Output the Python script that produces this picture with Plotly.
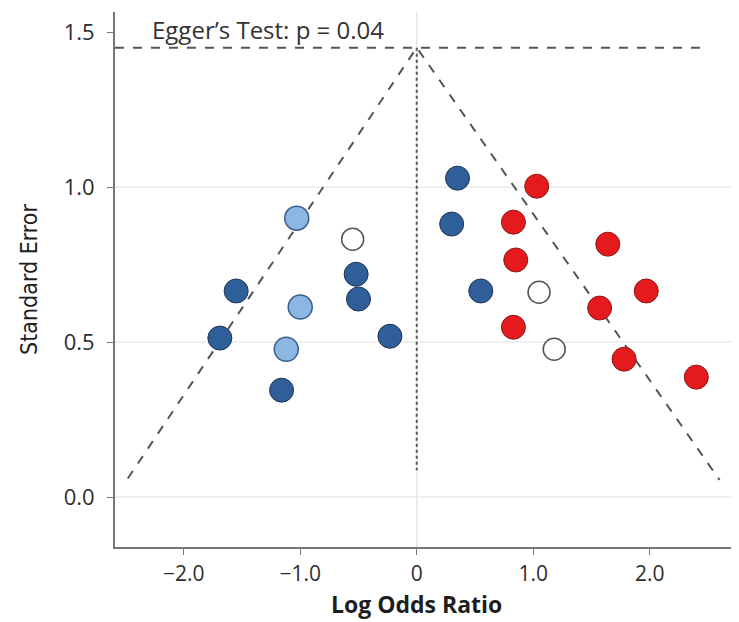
import plotly.graph_objects as go

# ---- data ----
dark_x = [-0.52, -0.50, -1.55, -1.69, -0.23, -1.16, 0.35, 0.30, 0.55]
dark_y = [0.719, 0.639, 0.665, 0.513, 0.519, 0.345, 1.029, 0.881, 0.665]
light_x = [-1.03, -1.00, -1.12]
light_y = [0.900, 0.613, 0.477]
red_x = [1.03, 0.83, 1.64, 0.85, 1.97, 1.57, 0.83, 1.78, 2.40]
red_y = [1.003, 0.887, 0.816, 0.765, 0.665, 0.610, 0.548, 0.445, 0.387]
open_x = [-0.55, 1.05, 1.18]
open_y = [0.832, 0.661, 0.477]

apex = (0.0, 1.45)
left_end = (-2.48, 0.06)
right_end = (2.60, 0.055)
center_end_y = 0.087
hline_x_end = 2.50

x_ticks = [-2, -1, 0, 1, 2]
x_ticktext = ["\u22122.0", "\u22121.0", "0", "1.0", "2.0"]
y_ticks = [0, 0.5, 1.0, 1.5]
y_ticktext = ["0.0", "0.5", "1.0", "1.5"]
grid_y = [0, 0.5, 1.0]

fig = go.Figure()

dash_line = dict(color="#555555", width=2, dash="dash")
fig.add_trace(go.Scatter(x=[left_end[0], apex[0], right_end[0]],
                         y=[left_end[1], apex[1], right_end[1]],
                         mode="lines", line=dash_line, hoverinfo="skip"))
fig.add_trace(go.Scatter(x=[apex[0], apex[0]], y=[apex[1], center_end_y],
                         mode="lines", line=dict(color="#555555", width=2, dash="dot"),
                         hoverinfo="skip"))
fig.add_trace(go.Scatter(x=[-2.59, hline_x_end], y=[apex[1], apex[1]],
                         mode="lines", line=dash_line, hoverinfo="skip"))

msize = 24
fig.add_trace(go.Scatter(x=dark_x, y=dark_y, mode="markers",
                         marker=dict(size=msize, color="#2f5e98",
                                     line=dict(color="#1d3557", width=1))))
fig.add_trace(go.Scatter(x=light_x, y=light_y, mode="markers",
                         marker=dict(size=msize, color="#8cb7e3",
                                     line=dict(color="#3a5f8c", width=1.5))))
fig.add_trace(go.Scatter(x=red_x, y=red_y, mode="markers",
                         marker=dict(size=msize, color="#e41a1c",
                                     line=dict(color="#8a1a1a", width=1))))
fig.add_trace(go.Scatter(x=open_x, y=open_y, mode="markers",
                         marker=dict(size=msize - 2, color="white",
                                     line=dict(color="#555555", width=1.5))))

shapes = []
for gy in grid_y:
    shapes.append(dict(type="line", xref="paper", x0=0, x1=1, yref="y", y0=gy, y1=gy,
                       line=dict(color="#ebebeb", width=1.5), layer="below"))
shapes.append(dict(type="line", xref="x", x0=0, x1=0, yref="paper", y0=0, y1=1,
                   line=dict(color="#e6e6e6", width=1.5), layer="below"))

fig.update_layout(
    width=739, height=622,
    margin=dict(l=107, r=0, t=4, b=83),
    plot_bgcolor="white", paper_bgcolor="white",
    showlegend=False,
    shapes=shapes,
    font=dict(family="Open Sans, Noto Sans, sans-serif", color="#2e2e2e"),
    xaxis=dict(range=[-2.59, 2.835], tickvals=x_ticks, ticktext=x_ticktext,
               showgrid=False, zeroline=False, showline=True, linecolor="#777777",
               linewidth=2, ticks="outside", ticklen=6, tickcolor="#777777",
               automargin=False, ticklabelstandoff=1,
               tickfont=dict(size=21, color="#2e2e2e")),
    yaxis=dict(range=[-0.161, 1.565], tickvals=y_ticks, ticktext=y_ticktext,
               showgrid=False, zeroline=False, showline=True, linecolor="#777777",
               linewidth=2, ticks="outside", ticklen=6, tickcolor="#777777",
               automargin=False, ticklabelstandoff=8,
               tickfont=dict(size=22, color="#2e2e2e"),
               title=dict(text="Standard Error",
                          font=dict(size=23, color="#1e1e1e",
                                    family="DejaVu Sans Condensed, Liberation Sans Narrow, sans-serif"),
                          standoff=20)),
    annotations=[
        dict(text="Egger\u2019s Test: p = 0.04", xref="x", yref="y",
             x=-2.29, y=1.51, xanchor="left", yanchor="middle",
             showarrow=False, font=dict(size=24, color="#333333")),
        dict(text="<b>Log Odds Ratio</b>", xref="x", yref="paper",
             x=0, y=-0.106, xanchor="center", yanchor="middle",
             showarrow=False, font=dict(size=23, color="#1e1e1e")),
    ],
)

fig.write_html("out.html")
